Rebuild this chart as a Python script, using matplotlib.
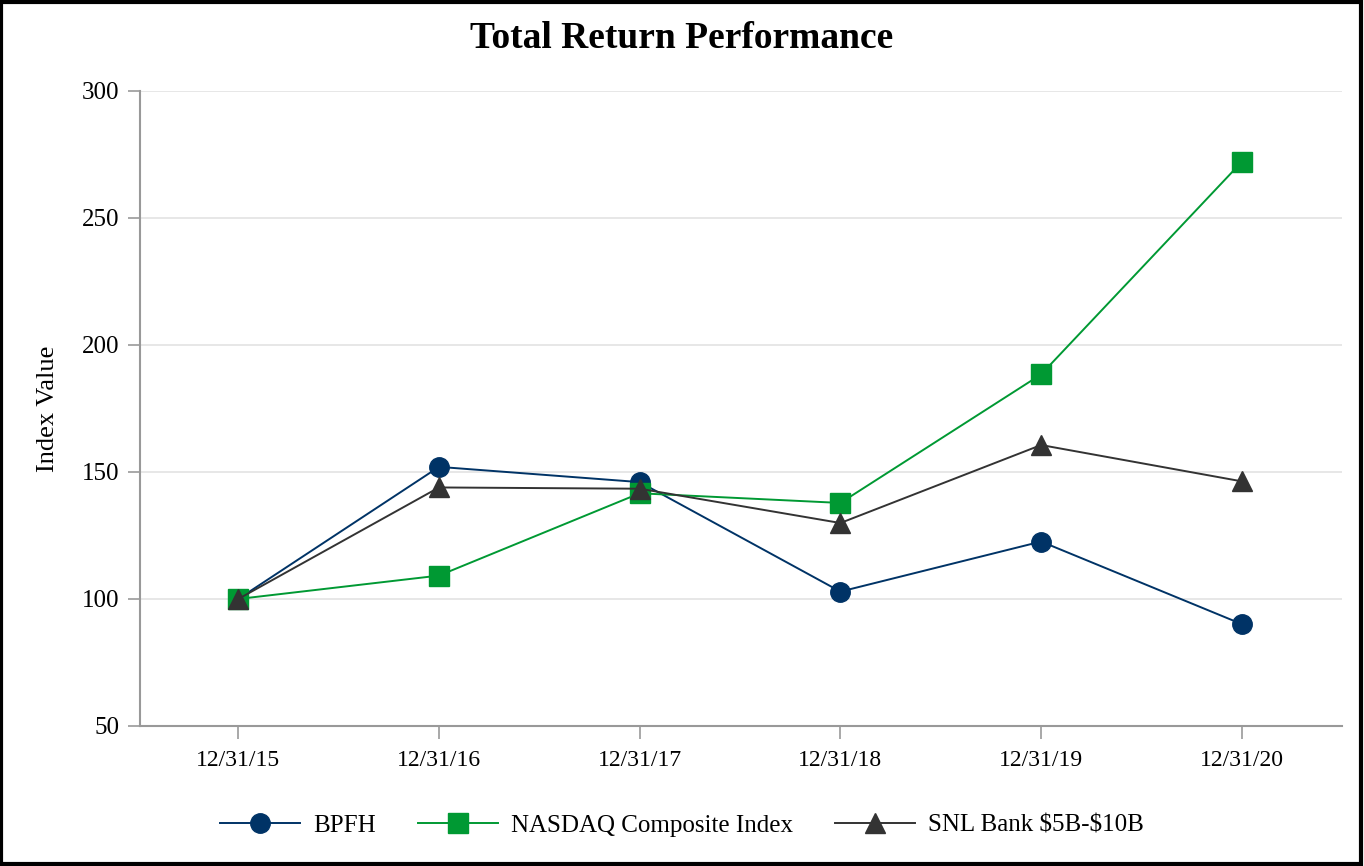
import matplotlib
matplotlib.use('Agg')
import matplotlib.pyplot as plt
from matplotlib.patches import Rectangle

#%% data
dates = ['12/31/15', '12/31/16', '12/31/17', '12/31/18', '12/31/19', '12/31/20']
bpfh = [100.0, 152.0, 146.0, 102.9, 122.6, 90.1]
nasdaq = [100.0, 109.2, 141.6, 137.8, 188.4, 272.1]
snl = [100.0, 143.9, 143.4, 129.9, 160.6, 146.3]

#%% style
plt.rcParams['font.family'] = ['Liberation Serif', 'DejaVu Serif']

fig = plt.figure(figsize=(13.64, 8.66), dpi=100)
ax = fig.add_axes([0.1026, 0.1617, 0.8814, 0.7333])

x = list(range(len(dates)))
ax.plot(x, bpfh, color='#003366', lw=1.4, marker='o', ms=14, label='BPFH')
ax.plot(x, nasdaq, color='#009933', lw=1.4, marker='s', ms=14, label='NASDAQ Composite Index')
ax.plot(x, snl, color='#333333', lw=1.4, marker='^', ms=14, label=r'SNL Bank \$5B-\$10B')

ax.set_xlim(-0.49, 5.5)
ax.set_ylim(50, 300)
ax.set_yticks([50, 100, 150, 200, 250, 300])
ax.set_xticks(x)
ax.set_xticklabels(dates)
ax.tick_params(axis='both', labelsize=17, colors='#999999', labelcolor='black',
               length=9, width=1.2)
ax.tick_params(axis='y', pad=6, labelsize=18)
ax.tick_params(axis='x', pad=8)

for yv in [100, 150, 200, 250, 300]:
    ax.axhline(yv, color='#e3e3e3', lw=1.2, zorder=0)

for s in ['top', 'right']:
    ax.spines[s].set_visible(False)
for s in ['left', 'bottom']:
    ax.spines[s].set_color('#999999')
    ax.spines[s].set_linewidth(1.5)

ax.set_ylabel('Index Value', fontsize=19, labelpad=16)
fig.text(0.5, 0.956, 'Total Return Performance', ha='center', va='center',
         fontsize=27, fontweight='bold')

fig.legend(loc='center', bbox_to_anchor=(0.5, 0.047), ncol=3, frameon=False,
           fontsize=18, handlelength=3.2, columnspacing=1.7, handletextpad=0.5)

fig.patches.append(Rectangle((0.001, 0.002), 0.997, 0.996, transform=fig.transFigure,
                             fill=False, edgecolor='black', lw=3))

plt.savefig('out.png', dpi=100)
